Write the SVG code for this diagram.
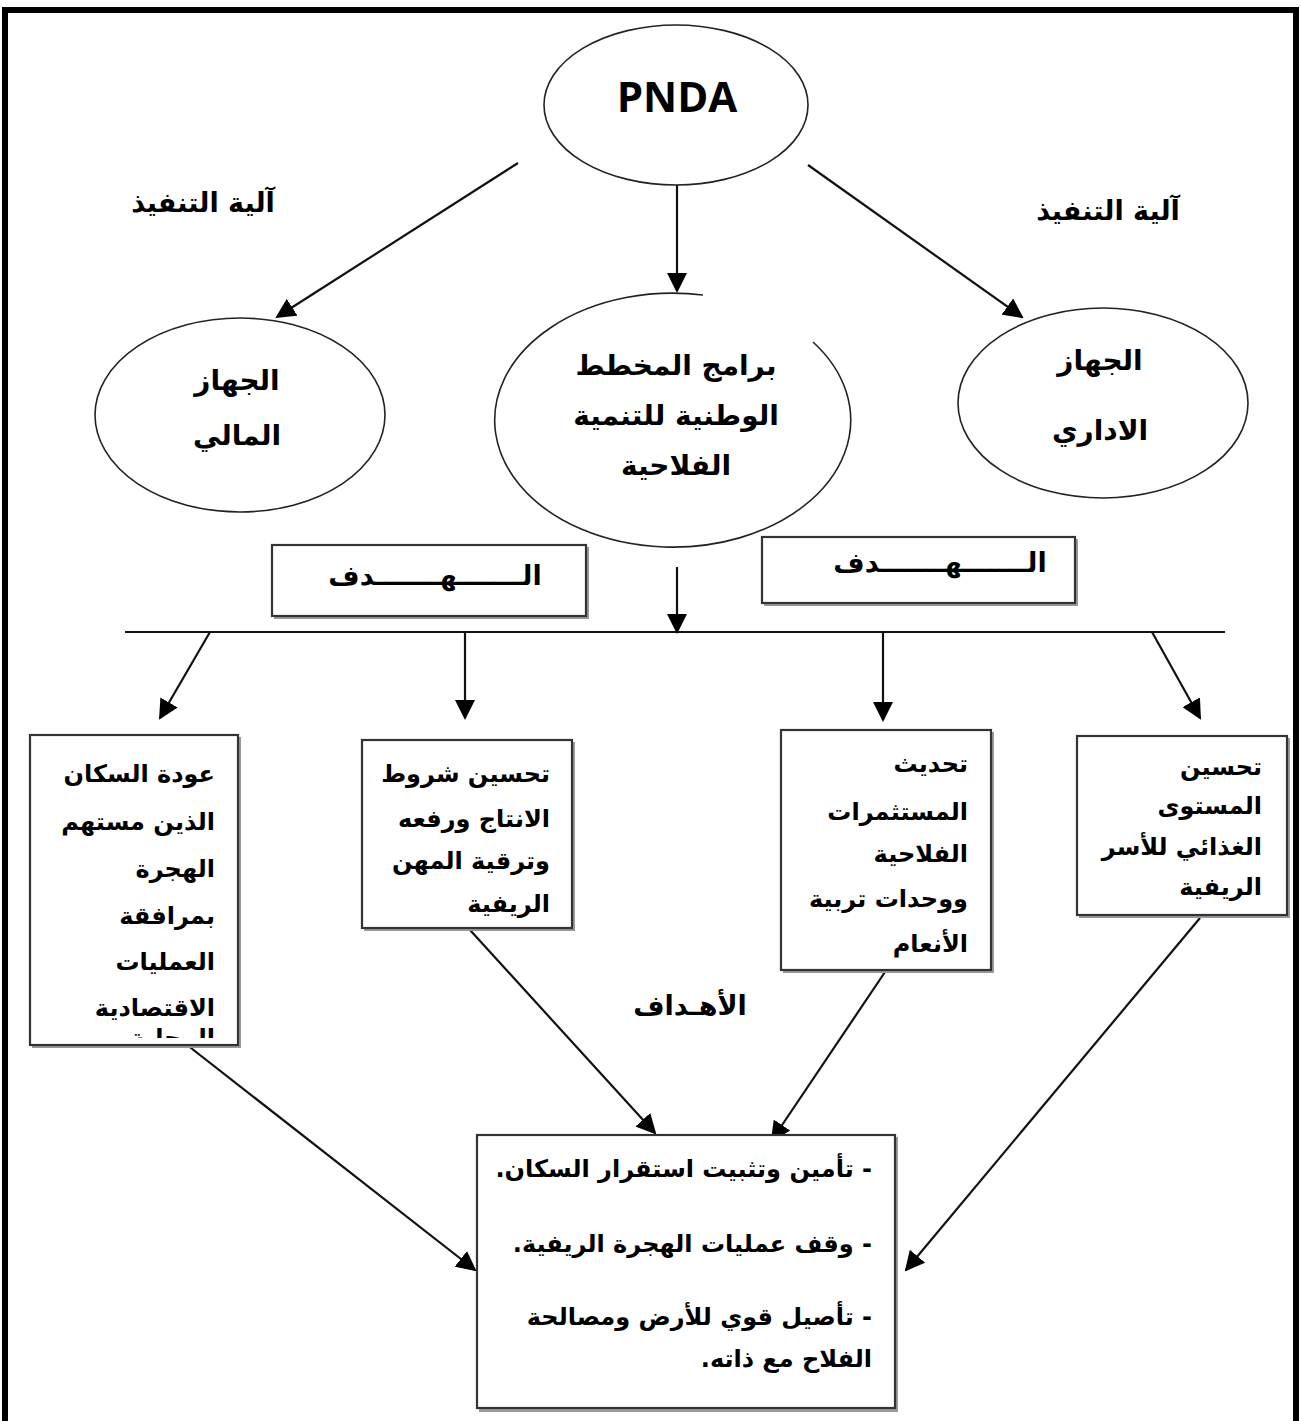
<svg xmlns="http://www.w3.org/2000/svg" width="1301" height="1421" viewBox="0 0 1301 1421">
<style>
.shape{fill:#fff;stroke:#222;stroke-width:1.6}
.box{fill:#fff;stroke:#333;stroke-width:2.2}
.shadow{fill:#999}
.conn{stroke:#111;stroke-width:2.2;fill:none;marker-end:url(#ah)}
.ar{font-family:"DejaVu Sans",sans-serif;font-weight:bold;font-size:27px;fill:#000;direction:rtl;unicode-bidi:embed}
.sm{font-size:24px}
.big{font-size:28px}
.mid{text-anchor:middle}
</style>
<defs>
<marker id="ah" viewBox="0 0 10 10" refX="9" refY="5" markerWidth="20" markerHeight="20" markerUnits="userSpaceOnUse" orient="auto">
<path d="M0,0 L10,5 L0,10 z" fill="#000"/>
</marker>
<clipPath id="clip1"><rect x="30" y="1012" width="210" height="26"/></clipPath>
</defs>
<rect x="0" y="0" width="1301" height="1421" fill="#fff"/>
<path d="M5,1421 V10 H1296 V1421" fill="none" stroke="#000" stroke-width="6"/>

<g id="connectors">
<line class="conn" x1="518" y1="163" x2="277" y2="317"/>
<line class="conn" x1="677" y1="185" x2="677" y2="291"/>
<line class="conn" x1="808" y1="165" x2="1022" y2="317"/>
<line class="conn" x1="677" y1="567" x2="677" y2="632"/>
<line x1="125" y1="632" x2="1225" y2="632" stroke="#111" stroke-width="2"/>
<line class="conn" x1="210" y1="632" x2="160" y2="718"/>
<line class="conn" x1="465" y1="632" x2="465" y2="718"/>
<line class="conn" x1="883" y1="632" x2="883" y2="720"/>
<line class="conn" x1="1152" y1="632" x2="1200" y2="718"/>
<line class="conn" x1="168" y1="1030" x2="475" y2="1270"/>
<line class="conn" x1="470" y1="930" x2="655" y2="1133"/>
<line class="conn" x1="885" y1="972" x2="772" y2="1140"/>
<line class="conn" x1="1200" y1="918" x2="906" y2="1270"/>
</g>

<g id="pnda">
<ellipse class="shape" cx="676" cy="105" rx="132" ry="80"/>
<text x="677" y="112" font-family="'Open Sans','DejaVu Sans',sans-serif" font-weight="bold" font-size="42" text-anchor="middle">PNDA</text>
</g>

<g id="label-left">
<text class="ar mid" x="203" y="212">آلية التنفيذ</text>
</g>
<g id="label-right">
<text class="ar mid" x="1108" y="220">آلية التنفيذ</text>
</g>

<g id="finance">
<ellipse class="shape" cx="240" cy="415" rx="145" ry="97"/>
<text class="ar big mid" x="237" y="390">الجهاز</text>
<text class="ar big mid" x="237" y="445">المالي</text>
</g>

<g id="programs">
<path class="shape" d="M703,295 A178,127 0 1 0 813,342"/>
<text class="ar big mid" x="676" y="375">برامج المخطط</text>
<text class="ar big mid" x="676" y="425">الوطنية للتنمية</text>
<text class="ar big mid" x="676" y="475">الفلاحية</text>
</g>

<g id="admin">
<ellipse class="shape" cx="1103" cy="403" rx="145" ry="95"/>
<text class="ar big mid" x="1100" y="370">الجهاز</text>
<text class="ar big mid" x="1100" y="440">الاداري</text>
</g>

<g id="goal-left">
<rect class="shadow" x="274" y="547" width="315" height="72"/>
<rect class="box" x="272" y="545" width="314" height="71"/>
<text class="ar mid" x="435" y="585">الـــــــهـــــــدف</text>
</g>
<g id="goal-right">
<rect class="shadow" x="764" y="539" width="314" height="67"/>
<rect class="box" x="762" y="537" width="313" height="66"/>
<text class="ar mid" x="940" y="572">الـــــــهـــــــدف</text>
</g>

<g id="box1">
<rect class="shadow" x="32" y="737" width="209" height="311"/>
<rect class="box" x="30" y="735" width="208" height="310"/>
<text class="ar sm" x="215" y="782">عودة السكان</text>
<text class="ar sm" x="215" y="830">الذين مستهم</text>
<text class="ar sm" x="215" y="877">الهجرة</text>
<text class="ar sm" x="215" y="924">بمرافقة</text>
<text class="ar sm" x="215" y="970">العمليات</text>
<text class="ar sm" x="215" y="1016">الاقتصادية</text>
<text class="ar sm" x="215" y="1046" clip-path="url(#clip1)">المحلية</text>
</g>

<g id="box2">
<rect class="shadow" x="364" y="742" width="211" height="189"/>
<rect class="box" x="362" y="740" width="210" height="188"/>
<text class="ar sm" x="550" y="782">تحسين شروط</text>
<text class="ar sm" x="550" y="827">الانتاج ورفعه</text>
<text class="ar sm" x="550" y="869">وترقية المهن</text>
<text class="ar sm" x="550" y="912">الريفية</text>
</g>

<g id="box3">
<rect class="shadow" x="783" y="732" width="211" height="241"/>
<rect class="box" x="781" y="730" width="210" height="240"/>
<text class="ar sm" x="968" y="772">تحديث</text>
<text class="ar sm" x="968" y="820">المستثمرات</text>
<text class="ar sm" x="968" y="862">الفلاحية</text>
<text class="ar sm" x="968" y="907">ووحدات تربية</text>
<text class="ar sm" x="968" y="952">الأنعام</text>
</g>

<g id="box4">
<rect class="shadow" x="1079" y="738" width="211" height="180"/>
<rect class="box" x="1077" y="736" width="210" height="179"/>
<text class="ar sm" x="1262" y="775">تحسين</text>
<text class="ar sm" x="1262" y="814">المستوى</text>
<text class="ar sm" x="1262" y="855">الغذائي للأسر</text>
<text class="ar sm" x="1262" y="895">الريفية</text>
</g>

<g id="label-goals">
<text class="ar mid" x="690" y="1015">الأهـداف</text>
</g>

<g id="result">
<rect class="shadow" x="479" y="1137" width="419" height="275"/>
<rect class="box" x="477" y="1135" width="418" height="273"/>
<text class="ar sm" x="872" y="1177">- تأمين وتثبيت استقرار السكان.</text>
<text class="ar sm" x="872" y="1252">- وقف عمليات الهجرة الريفية.</text>
<text class="ar sm" x="872" y="1325">- تأصيل قوي للأرض ومصالحة</text>
<text class="ar sm" x="872" y="1367">الفلاح مع ذاته.</text>
</g>
</svg>
